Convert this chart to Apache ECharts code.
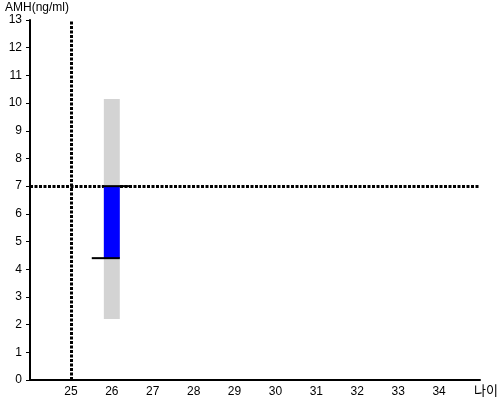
<!DOCTYPE html>
<html>
<head>
<meta charset="utf-8">
<script src="https://cdn.jsdelivr.net/npm/echarts@6/dist/echarts.min.js"></script>
<style>
  html, body { margin: 0; padding: 0; background: #fff; }
  #chart { width: 500px; height: 400px; }
</style>
</head>
<body>
<div id="chart"></div>
<script>
// 데이터
var ages = [26];
var normalLow = [2.2];
var normalHigh = [10.15];
var amhLow = [4.4];
var amhHigh = [7.0];
var refAge = 25;
var refAmh = 7.0;

var chart = echarts.init(document.getElementById('chart'));

var seriesData = [];
for (var i = 0; i < ages.length; i++) {
    seriesData.push([ages[i], normalLow[i], normalHigh[i], amhLow[i], amhHigh[i]]);
}

var font = 'Liberation Sans, Arial, sans-serif';

chart.setOption({
    animation: false,
    grid: { left: 30, right: 20, top: 20, bottom: 20, containLabel: false, outerBoundsMode: 'none' },
    xAxis: {
        type: 'value',
        min: 24,
        max: 35,
        interval: 1,
        name: '나이',
        nameLocation: 'end',
        nameGap: -6,
        nameTextStyle: { color: '#000', fontSize: 13, fontFamily: 'Noto Sans CJK KR, sans-serif', align: 'left', verticalAlign: 'top', padding: [4, 0, 0, 0] },
        axisLine: { lineStyle: { color: '#000', width: 2 } },
        axisTick: { show: false },
        splitLine: { show: false },
        axisLabel: {
            color: '#000', fontSize: 12, fontFamily: font, margin: 6,
            formatter: function (v) { return (v <= 24 || v >= 35) ? '' : v; }
        }
    },
    yAxis: {
        type: 'value',
        min: 0,
        max: 13,
        interval: 1,
        name: 'AMH(ng/ml)',
        nameLocation: 'end',
        nameGap: 6,
        nameTextStyle: { color: '#000', fontSize: 12, fontFamily: font, align: 'left', padding: [0, 0, 0, -25] },
        axisLine: { lineStyle: { color: '#000', width: 2 } },
        axisTick: { show: true, length: 4, lineStyle: { color: '#000' } },
        splitLine: { show: false },
        axisLabel: { color: '#000', fontSize: 12, fontFamily: font, margin: 8 }
    },
    series: [{
        // 기준선 (점선)
        type: 'line',
        data: [],
        z: 1,
        markLine: {
            silent: true,
            symbol: 'none',
            label: { show: false },
            lineStyle: { color: '#000', width: 3, type: [3, 1.5] },
            data: [
                { xAxis: refAge },
                { yAxis: refAmh }
            ]
        }
    }, {
        type: 'custom',
        data: seriesData,
        z: 5,
        renderItem: function (params, api) {
            var x = api.value(0);
            var w = api.size([0.39, 0])[0];
            var nTop = api.coord([x, api.value(2)]);
            var nBot = api.coord([x, api.value(1)]);
            var aTop = api.coord([x, api.value(4)]);
            var aBot = api.coord([x, api.value(3)]);
            var hi1 = api.coord([x - 0.245, api.value(4)]);
            var hi2 = api.coord([x + 0.46, api.value(4)]);
            var lo1 = api.coord([x - 0.49, api.value(3)]);
            var lo2 = api.coord([x + 0.195, api.value(3)]);
            return {
                type: 'group',
                children: [
                    { type: 'rect', shape: { x: nTop[0] - w / 2, y: nTop[1], width: w, height: nBot[1] - nTop[1] }, style: { fill: '#d3d3d3' } },
                    { type: 'rect', shape: { x: aTop[0] - w / 2, y: aTop[1], width: w, height: aBot[1] - aTop[1] }, style: { fill: '#0000ff' } },
                    { type: 'line', shape: { x1: hi1[0], y1: hi1[1], x2: hi2[0], y2: hi2[1] }, style: { stroke: '#000', lineWidth: 2 } },
                    { type: 'line', shape: { x1: lo1[0], y1: lo1[1], x2: lo2[0], y2: lo2[1] }, style: { stroke: '#000', lineWidth: 2 } }
                ]
            };
        }
    }]
});
</script>
</body>
</html>
